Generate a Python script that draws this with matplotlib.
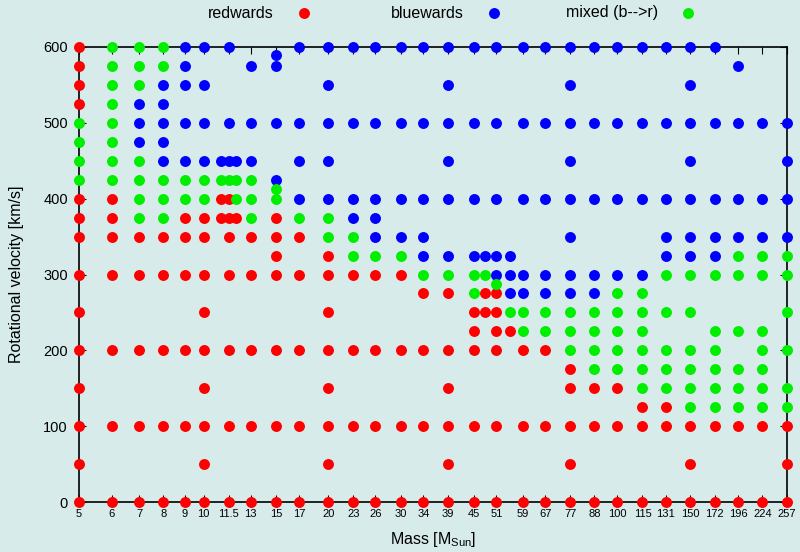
import matplotlib.pyplot as plt
from matplotlib.ticker import FixedLocator, NullLocator

plt.rcParams['font.family'] = ['Liberation Sans', 'DejaVu Sans']

BG = '#d7ecea'

# initial masses shown on the axis (M_Sun)
mass_ticks = [5, 6, 7, 8, 9, 10, 11.5, 13, 15, 17, 20, 23, 26, 30, 34, 39,
              45, 51, 59, 67, 77, 88, 100, 115, 131, 150, 172, 196, 224, 257]

# rotational velocities (km/s) per mass, grouped by the direction of the loop
redwards = {
    5: [0, 50, 100, 150, 200, 250, 300, 350, 375, 400, 525, 550, 575, 600],
    6: [0, 100, 200, 300, 350, 375, 400],
    7: [0, 100, 200, 300, 350],
    8: [0, 100, 200, 300, 350],
    9: [0, 100, 200, 300, 350, 375],
    10: [0, 50, 100, 150, 200, 250, 300, 350, 375],
    11: [375, 400],
    11.5: [0, 100, 200, 300, 350, 375, 400],
    12: [375],
    13: [0, 100, 200, 300, 350],
    15: [0, 100, 200, 300, 325, 350, 375],
    17: [0, 100, 200, 300, 350],
    20: [0, 50, 100, 150, 200, 250, 300, 325],
    23: [0, 100, 200, 300],
    26: [0, 100, 200, 300],
    30: [0, 100, 200, 300],
    34: [0, 100, 200, 275],
    39: [0, 50, 100, 150, 200, 275],
    45: [0, 100, 200, 225, 250],
    48: [250, 275],
    51: [0, 100, 200, 225, 250, 275],
    55: [225],
    59: [0, 100, 200],
    67: [0, 100, 200],
    77: [0, 50, 100, 150, 175],
    88: [0, 100, 150],
    100: [0, 100, 150],
    115: [0, 100, 125],
    131: [0, 100, 125],
    150: [0, 50, 100],
    172: [0, 100],
    196: [0, 100],
    224: [0, 100],
    257: [0, 50, 100],
}

bluewards = {
    7: [475, 500, 525],
    8: [450, 475, 500, 525, 550],
    9: [450, 500, 550, 575, 600],
    10: [450, 500, 550, 600],
    11: [450],
    11.5: [450, 500, 600],
    12: [450],
    13: [450, 500, 575],
    15: [425, 500, 575, 590],
    17: [400, 450, 500, 600],
    20: [400, 450, 500, 550, 600],
    23: [375, 400, 500, 600],
    26: [350, 375, 400, 500, 600],
    30: [350, 400, 500, 600],
    34: [325, 350, 400, 500, 600],
    39: [325, 400, 450, 500, 550, 600],
    45: [325, 400, 500, 600],
    48: [325],
    51: [300, 325, 400, 500, 600],
    55: [275, 300, 325],
    59: [275, 300, 400, 500, 600],
    67: [275, 300, 400, 500, 600],
    77: [275, 300, 350, 400, 450, 500, 550, 600],
    88: [275, 300, 400, 500, 600],
    100: [300, 400, 500, 600],
    115: [300, 400, 500, 600],
    131: [325, 350, 400, 500, 600],
    150: [325, 350, 400, 450, 500, 550, 600],
    172: [325, 350, 400, 500, 600],
    196: [350, 400, 500, 575],
    224: [350, 400, 500],
    257: [350, 400, 450, 500],
}

mixed = {
    5: [425, 450, 475, 500],
    6: [425, 450, 475, 500, 525, 550, 575, 600],
    7: [375, 400, 425, 450, 550, 575, 600],
    8: [375, 400, 425, 575, 600],
    9: [400, 425],
    10: [400, 425],
    11: [425],
    11.5: [425],
    12: [400, 425],
    13: [375, 400, 425],
    15: [400, 412.5],
    17: [375],
    20: [350, 375],
    23: [325, 350],
    26: [325],
    30: [325],
    34: [300],
    39: [300],
    45: [275, 300],
    48: [300],
    51: [287.5],
    55: [250],
    59: [225, 250],
    67: [225, 250],
    77: [200, 225, 250],
    88: [175, 200, 225, 250],
    100: [175, 200, 225, 250, 275],
    115: [150, 175, 200, 225, 250, 275],
    131: [150, 175, 200, 250, 300],
    150: [125, 150, 175, 200, 250, 300],
    172: [125, 150, 175, 200, 225, 300],
    196: [125, 150, 175, 225, 300, 325],
    224: [125, 150, 175, 200, 225, 300, 325],
    257: [125, 150, 200, 250, 300, 325],
}


def flatten(series):
    xs, ys = [], []
    for m, vels in series.items():
        xs += [m] * len(vels)
        ys += vels
    return xs, ys


W, H = 800, 552
fig = plt.figure(figsize=(W / 100, H / 100), dpi=100, facecolor=BG)
ax = fig.add_axes([79 / W, 50 / H, 708 / W, 455 / H])
ax.set_facecolor(BG)

series_style = [(redwards, '#ff0000', 'redwards', 304),
                (bluewards, '#0000ff', 'bluewards', 494),
                (mixed, '#00ee00', 'mixed (b-->r)', 688)]

for series, color, label, key_x in series_style:
    xs, ys = flatten(series)
    ax.scatter(xs, ys, s=62, c=color, linewidths=0, clip_on=False, zorder=3)
    # gnuplot-style key along the top: right-justified text, then the sample
    key_y = 1 - 13 / H
    fig.text((key_x - 30) / W, key_y, label, ha='right', va='center',
             fontsize=11.5)
    ax.scatter([key_x / W], [key_y], s=62, c=color, linewidths=0,
               transform=fig.transFigure, clip_on=False)

ax.set_xscale('log')
ax.set_xlim(5, 257)
ax.set_ylim(0, 600)
ax.xaxis.set_major_locator(FixedLocator(mass_ticks))
ax.xaxis.set_minor_locator(NullLocator())
ax.set_xticklabels([f'{m:g}' for m in mass_ticks], fontsize=8)
ax.set_yticks(range(0, 601, 100))
ax.tick_params(axis='y', labelsize=10.5, pad=8)
ax.tick_params(axis='x', pad=5)
ax.tick_params(direction='in', top=True, right=True, length=5, width=0.8)
for sp in ax.spines.values():
    sp.set_linewidth(1.2)

ax.set_xlabel('Mass [M$_\\mathregular{Sun}$]', fontsize=11.5, labelpad=8)
ax.set_ylabel('Rotational velocity [km/s]', fontsize=11.5, labelpad=14)

fig.savefig('out.png', dpi=100, facecolor=BG)
